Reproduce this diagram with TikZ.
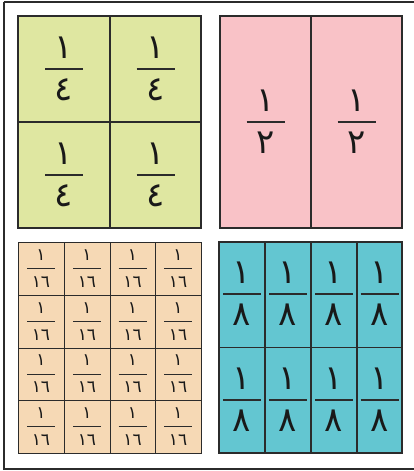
\documentclass[tikz,border=0pt]{standalone}
\usepackage{fontspec}
\newfontfamily\arabicfont[Script=Arabic]{DejaVu Sans}
\definecolor{qgreen}{HTML}{DFE7A1}
\definecolor{qpink}{HTML}{F9C2C7}
\definecolor{qtan}{HTML}{F6D9B5}
\definecolor{qteal}{HTML}{63C6D1}
\definecolor{qline}{HTML}{2B2B2B}
\tikzset{
  cellbox/.style={draw=qline, line width=1.3pt},
  outerframe/.style={draw=qline, line width=2pt},
  bigdigit/.style={font=\arabicfont\fontsize{34}{34}\selectfont, inner sep=0pt, anchor=base, text=black!90},
  smalldigit/.style={font=\arabicfont\fontsize{17}{17}\selectfont, inner sep=0pt, anchor=base, text=black!90},
  fracbar/.style={draw=qline, line width=1.2pt},
}
% big fraction: name, cx, bar y, numerator, denominator, bar half width
\newcommand{\bigfrac}[6]{%
  \node[bigdigit] (#1n) at (#2,#3-10.5) {#4};
  \node[bigdigit] (#1d) at (#2,#3+31) {#5};
  \draw[fracbar] (#2-#6,#3) -- (#2+#6,#3);
}
\newcommand{\smallfrac}[5]{%
  \node[smalldigit] (#1n) at (#2,#3-8.5) {١};
  \node[smalldigit] (#1d) at (#2,#3+18.5) {١٦};
  \draw[fracbar, line width=1pt] (#2-14,#3) -- (#2+14,#3);
}
\begin{document}
\begin{tikzpicture}[x=1pt,y=-1pt]
\useasboundingbox (0,0) rectangle (413,471);
\fill[white] (0,0) rectangle (413,471);
% outer frame (right edge lies beyond the picture)
\draw[outerframe] (3.5,1.5) -- (416,1.5);
\draw[outerframe] (3.5,1.5) -- (3.5,468.5) -- (416,468.5);

% green quarters
\fill[qgreen] (18,16) rectangle (201,228);
\draw[cellbox] (18,16) rectangle (201,228);
\draw[cellbox] (110,16) -- (110,228);
\draw[cellbox] (18,122) -- (201,122);
\bigfrac{ga}{64}{69}{١}{٤}{19}
\bigfrac{gb}{155.5}{69}{١}{٤}{19}
\bigfrac{gc}{64}{175}{١}{٤}{19}
\bigfrac{gd}{155.5}{175}{١}{٤}{19}

% pink halves
\fill[qpink] (220,16) rectangle (402,228);
\draw[cellbox] (220,16) rectangle (402,228);
\draw[cellbox] (311,16) -- (311,228);
\bigfrac{pa}{265.5}{122}{١}{٢}{19}
\bigfrac{pb}{356.5}{122}{١}{٢}{19}

% tan sixteenths
\fill[qtan] (18,242) rectangle (201,453);
\draw[cellbox, line width=1pt] (18,242) rectangle (201,453);
\foreach \x in {64,110,155} \draw[cellbox, line width=1pt] (\x,242) -- (\x,453);
\foreach \y in {295,348,400.5} \draw[cellbox, line width=1pt] (18,\y) -- (201,\y);
\foreach \cx [count=\i] in {41,87,132.5,178}
  \foreach \cy [count=\j] in {268.5,321.5,374.3,426.8}
    {\smallfrac{t\i\j}{\cx}{\cy}{}{}}

% teal eighths
\fill[qteal] (219,242) rectangle (402,453);
\draw[cellbox] (219,242) rectangle (402,453);
\foreach \x in {265,311,357} \draw[cellbox] (\x,242) -- (\x,453);
\draw[cellbox] (219,347.5) -- (402,347.5);
\foreach \cx [count=\i] in {242,288,334,379.5}
  \foreach \cy [count=\j] in {294,400}
    {\bigfrac{e\i\j}{\cx}{\cy}{١}{٨}{19}}
\end{tikzpicture}
\end{document}
